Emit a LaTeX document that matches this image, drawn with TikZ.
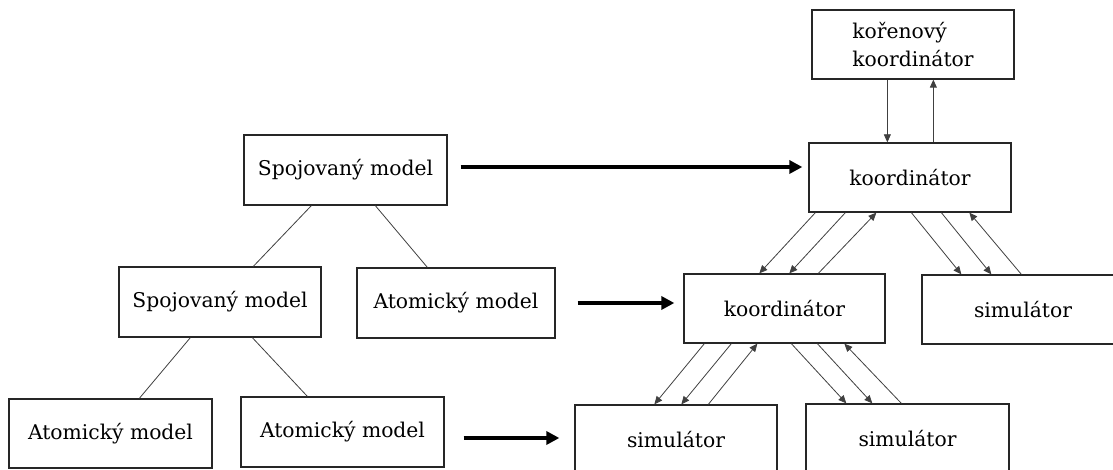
\documentclass[tikz,border=0pt]{standalone}
\usepackage{fontspec}
\setmainfont{DejaVu Serif}
\usetikzlibrary{arrows.meta}
\begin{document}
\begin{tikzpicture}[x=1pt,y=-1pt,
  box/.style={draw=black!85,line width=1.3pt,minimum width=202pt,minimum height=69pt,
              inner sep=0pt,font=\fontsize{20.3}{28}\selectfont},
  link/.style={draw=black!75,line width=0.8pt},
  msg/.style={link,-{Triangle[length=8pt,width=7pt]}},
  maps/.style={draw=black,line width=3.5pt,-{Triangle[length=13pt,width=13pt]}}]
% page frame; boxes on the right and bottom run past it
\fill[white] (0,0) rectangle (1113,470);
\useasboundingbox (0,0) rectangle (1113,470);

% model hierarchy
\node[box,minimum width=203pt,minimum height=70pt] (smt) at (345.5,170) {Spojovaný model};
\node[box,minimum height=70pt] (smm) at (220,302) {Spojovaný model};
\node[box,minimum width=198pt,minimum height=70pt] (amm) at (456,303) {Atomický model};
\node[box,minimum width=203pt] (amb1) at (110.5,433.5) {Atomický model};
\node[box,minimum width=203pt,minimum height=70pt] (amb2) at (342.5,432) {Atomický model};

% simulator hierarchy
\node[box,align=left] (root) at (913,44.5) {kořenový\\koordinátor};
\node[box] (k1) at (910,177.5) {koordinátor};
\node[box,minimum width=201pt] (k2) at (784.5,308.5) {koordinátor};
\node[box] (simr) at (1023,309.5) {simulátor};
\node[box] (simbl) at (676,439.5) {simulátor};
\node[box,minimum width=203pt] (simbr) at (907.5,438.5) {simulátor};

% tree edges
\draw[link] ([xshift=68pt]smt.south west) -- ([xshift=135pt]smm.north west);
\draw[link] ([xshift=132pt]smt.south west) -- ([xshift=71pt]amm.north west);
\draw[link] ([xshift=72pt]smm.south west) -- ([xshift=131pt]amb1.north west);
\draw[link] ([xshift=134pt]smm.south west) -- ([xshift=67pt]amb2.north west);

% model to simulator mapping
\coordinate (m1) at ([xshift=13pt,yshift=3pt]smt.east);
\draw[maps] (m1) -- ([xshift=-6pt]m1 -| k1.west);
\coordinate (m2) at ([xshift=22pt]amm.east);
\draw[maps] (m2) -- ([xshift=-9pt]m2 -| k2.west);
\coordinate (m3) at ([xshift=19pt,yshift=-6pt]amb2.east);
\draw[maps] (m3) -- ([xshift=-15pt]m3 -| simbl.west);

% messages: root <-> coordinator
\draw[msg] ([xshift=76pt]root.south west) -- ([xshift=79pt]k1.north west);
\draw[msg] ([xshift=125pt]k1.north west) -- ([xshift=122pt]root.south west);

% coordinator <-> coordinator
\draw[msg] ([xshift=7pt]k1.south west) -- ([xshift=76pt]k2.north west);
\draw[msg] ([xshift=37pt]k1.south west) -- ([xshift=106pt]k2.north west);
\draw[msg] ([xshift=135pt]k2.north west) -- ([xshift=68pt]k1.south west);

% coordinator <-> simulator (right)
\draw[msg] ([xshift=103pt]k1.south west) -- ([xshift=40pt]simr.north west);
\draw[msg] ([xshift=133pt]k1.south west) -- ([xshift=70pt]simr.north west);
\draw[msg] ([xshift=100pt]simr.north west) -- ([xshift=161pt]k1.south west);

% lower coordinator <-> simulators
\draw[msg] ([xshift=21pt]k2.south west) -- ([xshift=80pt]simbl.north west);
\draw[msg] ([xshift=48pt]k2.south west) -- ([xshift=107pt]simbl.north west);
\draw[msg] ([xshift=134pt]simbl.north west) -- ([xshift=74pt]k2.south west);
\draw[msg] ([xshift=108pt]k2.south west) -- ([xshift=41pt]simbr.north west);
\draw[msg] ([xshift=134pt]k2.south west) -- ([xshift=67pt]simbr.north west);
\draw[msg] ([xshift=96pt]simbr.north west) -- ([xshift=161pt]k2.south west);
\end{tikzpicture}
\end{document}
